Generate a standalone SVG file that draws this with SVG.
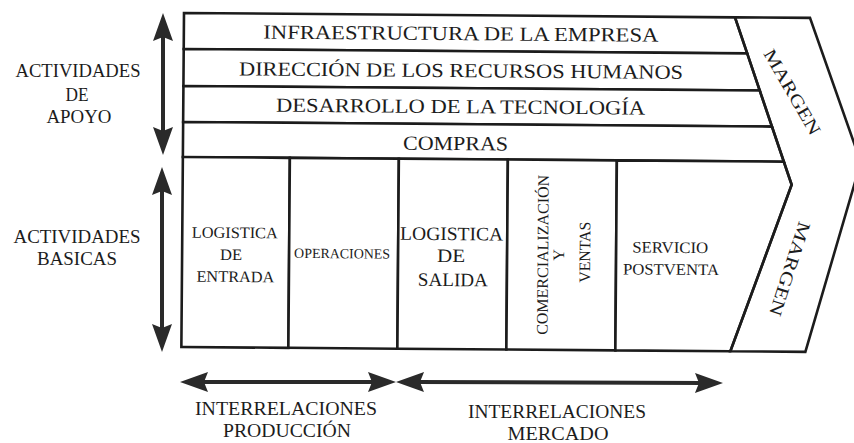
<svg xmlns="http://www.w3.org/2000/svg" width="854" height="443" viewBox="0 0 854 443">
<defs>
<style>
.ln{fill:none;stroke:#1c1c1c;stroke-width:2.6;stroke-linejoin:miter}
.cell{fill:#fff;stroke:#1c1c1c;stroke-width:2.6}
.t{font-family:"Liberation Serif","Times New Roman","DejaVu Serif",serif;fill:#1c1c1c;text-anchor:middle}
.r{font-size:20px}
.s{font-size:16px}
.l{font-size:18px}
.b{font-size:19px}
.arr{fill:none;stroke:#2a2a2a;stroke-width:4}
</style>
<marker id="ah" viewBox="-10 -12 32 24" refX="0" refY="0" markerWidth="32" markerHeight="24" markerUnits="userSpaceOnUse" orient="auto-start-reverse">
<path d="M20,0 L-8,-10 L-4,0 L-8,10 Z" fill="#2a2a2a"/>
</marker>
</defs>
<rect width="854" height="443" fill="#fff"/>

<g id="chain" transform="rotate(0.45 184 13)">
  <g id="infraestructura">
    <polygon class="cell" points="184,13 735,13 747.5,49 184,49"/>
    <text class="t r" x="461" y="38" textLength="395" lengthAdjust="spacingAndGlyphs">INFRAESTRUCTURA DE LA EMPRESA</text>
  </g>
  <g id="rrhh">
    <polygon class="cell" points="184,49 747.5,49 760.3,86 184,86"/>
    <text class="t r" x="461.5" y="75" textLength="444" lengthAdjust="spacingAndGlyphs">DIRECCIÓN DE LOS RECURSOS HUMANOS</text>
  </g>
  <g id="tecnologia">
    <polygon class="cell" points="184,86 760.3,86 772.8,122 184,122"/>
    <text class="t r" x="461.3" y="111" textLength="369" lengthAdjust="spacingAndGlyphs">DESARROLLO DE LA TECNOLOGÍA</text>
  </g>
  <g id="compras">
    <polygon class="cell" points="184,122 772.8,122 785,157 184,157"/>
    <text class="t r" x="456.6" y="148" textLength="105" lengthAdjust="spacingAndGlyphs">COMPRAS</text>
  </g>
  <g id="logistica-entrada">
    <rect class="cell" x="184" y="157" width="107" height="190"/>
    <text class="t s" x="236.5" y="237.6" textLength="86" lengthAdjust="spacingAndGlyphs">LOGISTICA</text>
    <text class="t s" x="233" y="259.6" textLength="22" lengthAdjust="spacingAndGlyphs">DE</text>
    <text class="t s" x="237.5" y="281.6" textLength="78" lengthAdjust="spacingAndGlyphs">ENTRADA</text>
  </g>
  <g id="operaciones">
    <rect class="cell" x="291" y="157" width="109" height="190"/>
    <text class="t" style="font-size:14px" x="344" y="257" textLength="96" lengthAdjust="spacingAndGlyphs">OPERACIONES</text>
  </g>
  <g id="logistica-salida">
    <rect class="cell" x="400" y="157" width="109" height="190"/>
    <text class="t b" x="453.4" y="238" textLength="103" lengthAdjust="spacingAndGlyphs">LOGISTICA</text>
    <text class="t b" x="453" y="260" textLength="28" lengthAdjust="spacingAndGlyphs">DE</text>
    <text class="t b" x="455" y="284" textLength="70" lengthAdjust="spacingAndGlyphs">SALIDA</text>
  </g>
  <g id="comercializacion">
    <rect class="cell" x="509" y="157" width="109" height="190"/>
    <text class="t s" transform="translate(550,252) rotate(-90)" textLength="160" lengthAdjust="spacingAndGlyphs">COMERCIALIZACIÓN</text>
    <text class="t s" transform="translate(566,252) rotate(-90)">Y</text>
    <text class="t s" transform="translate(592,249) rotate(-90)" textLength="61" lengthAdjust="spacingAndGlyphs">VENTAS</text>
  </g>
  <g id="servicio">
    <polygon class="cell" points="618,157 785,157 793,180 733,347 618,347"/>
    <text class="t s" x="672" y="249" textLength="76" lengthAdjust="spacingAndGlyphs">SERVICIO</text>
    <text class="t s" x="673" y="271" textLength="96" lengthAdjust="spacingAndGlyphs">POSTVENTA</text>
  </g>
  <g id="margen">
    <polygon class="ln" points="735,13 810,13 862,157 808,347 733,347 793,180"/>
  </g>
</g>

<g id="margen-labels">
  <text class="t" style="font-size:18px" transform="translate(787,95) rotate(60)" textLength="96" lengthAdjust="spacingAndGlyphs">MARGEN</text>
  <text class="t" style="font-size:18px" transform="translate(784,267) rotate(108)" textLength="98" lengthAdjust="spacingAndGlyphs">MARGEN</text>
</g>

<g id="apoyo">
  <text class="t l" x="78" y="77" textLength="125" lengthAdjust="spacingAndGlyphs">ACTIVIDADES</text>
  <text class="t l" x="77" y="101" textLength="23" lengthAdjust="spacingAndGlyphs">DE</text>
  <text class="t l" x="79" y="123" textLength="65" lengthAdjust="spacingAndGlyphs">APOYO</text>
</g>
<g id="basicas">
  <text class="t l" x="77" y="243" textLength="127" lengthAdjust="spacingAndGlyphs">ACTIVIDADES</text>
  <text class="t l" x="77" y="265" textLength="80" lengthAdjust="spacingAndGlyphs">BASICAS</text>
</g>
<g id="produccion">
  <text class="t b" x="286" y="415" textLength="182" lengthAdjust="spacingAndGlyphs">INTERRELACIONES</text>
  <text class="t b" x="287" y="437" textLength="128" lengthAdjust="spacingAndGlyphs">PRODUCCIÓN</text>
</g>
<g id="mercado">
  <text class="t b" x="557" y="418" textLength="178" lengthAdjust="spacingAndGlyphs">INTERRELACIONES</text>
  <text class="t b" x="558" y="440" textLength="101" lengthAdjust="spacingAndGlyphs">MERCADO</text>
</g>

<g id="connectors">
  <path class="arr" d="M163,33 L163,135" marker-start="url(#ah)" marker-end="url(#ah)"/>
  <path class="arr" d="M162,187 L162,332" marker-start="url(#ah)" marker-end="url(#ah)"/>
  <path class="arr" d="M200,382 L376,382" marker-start="url(#ah)" marker-end="url(#ah)"/>
  <path class="arr" d="M416,382 L703,383" marker-start="url(#ah)" marker-end="url(#ah)"/>
</g>
</svg>
